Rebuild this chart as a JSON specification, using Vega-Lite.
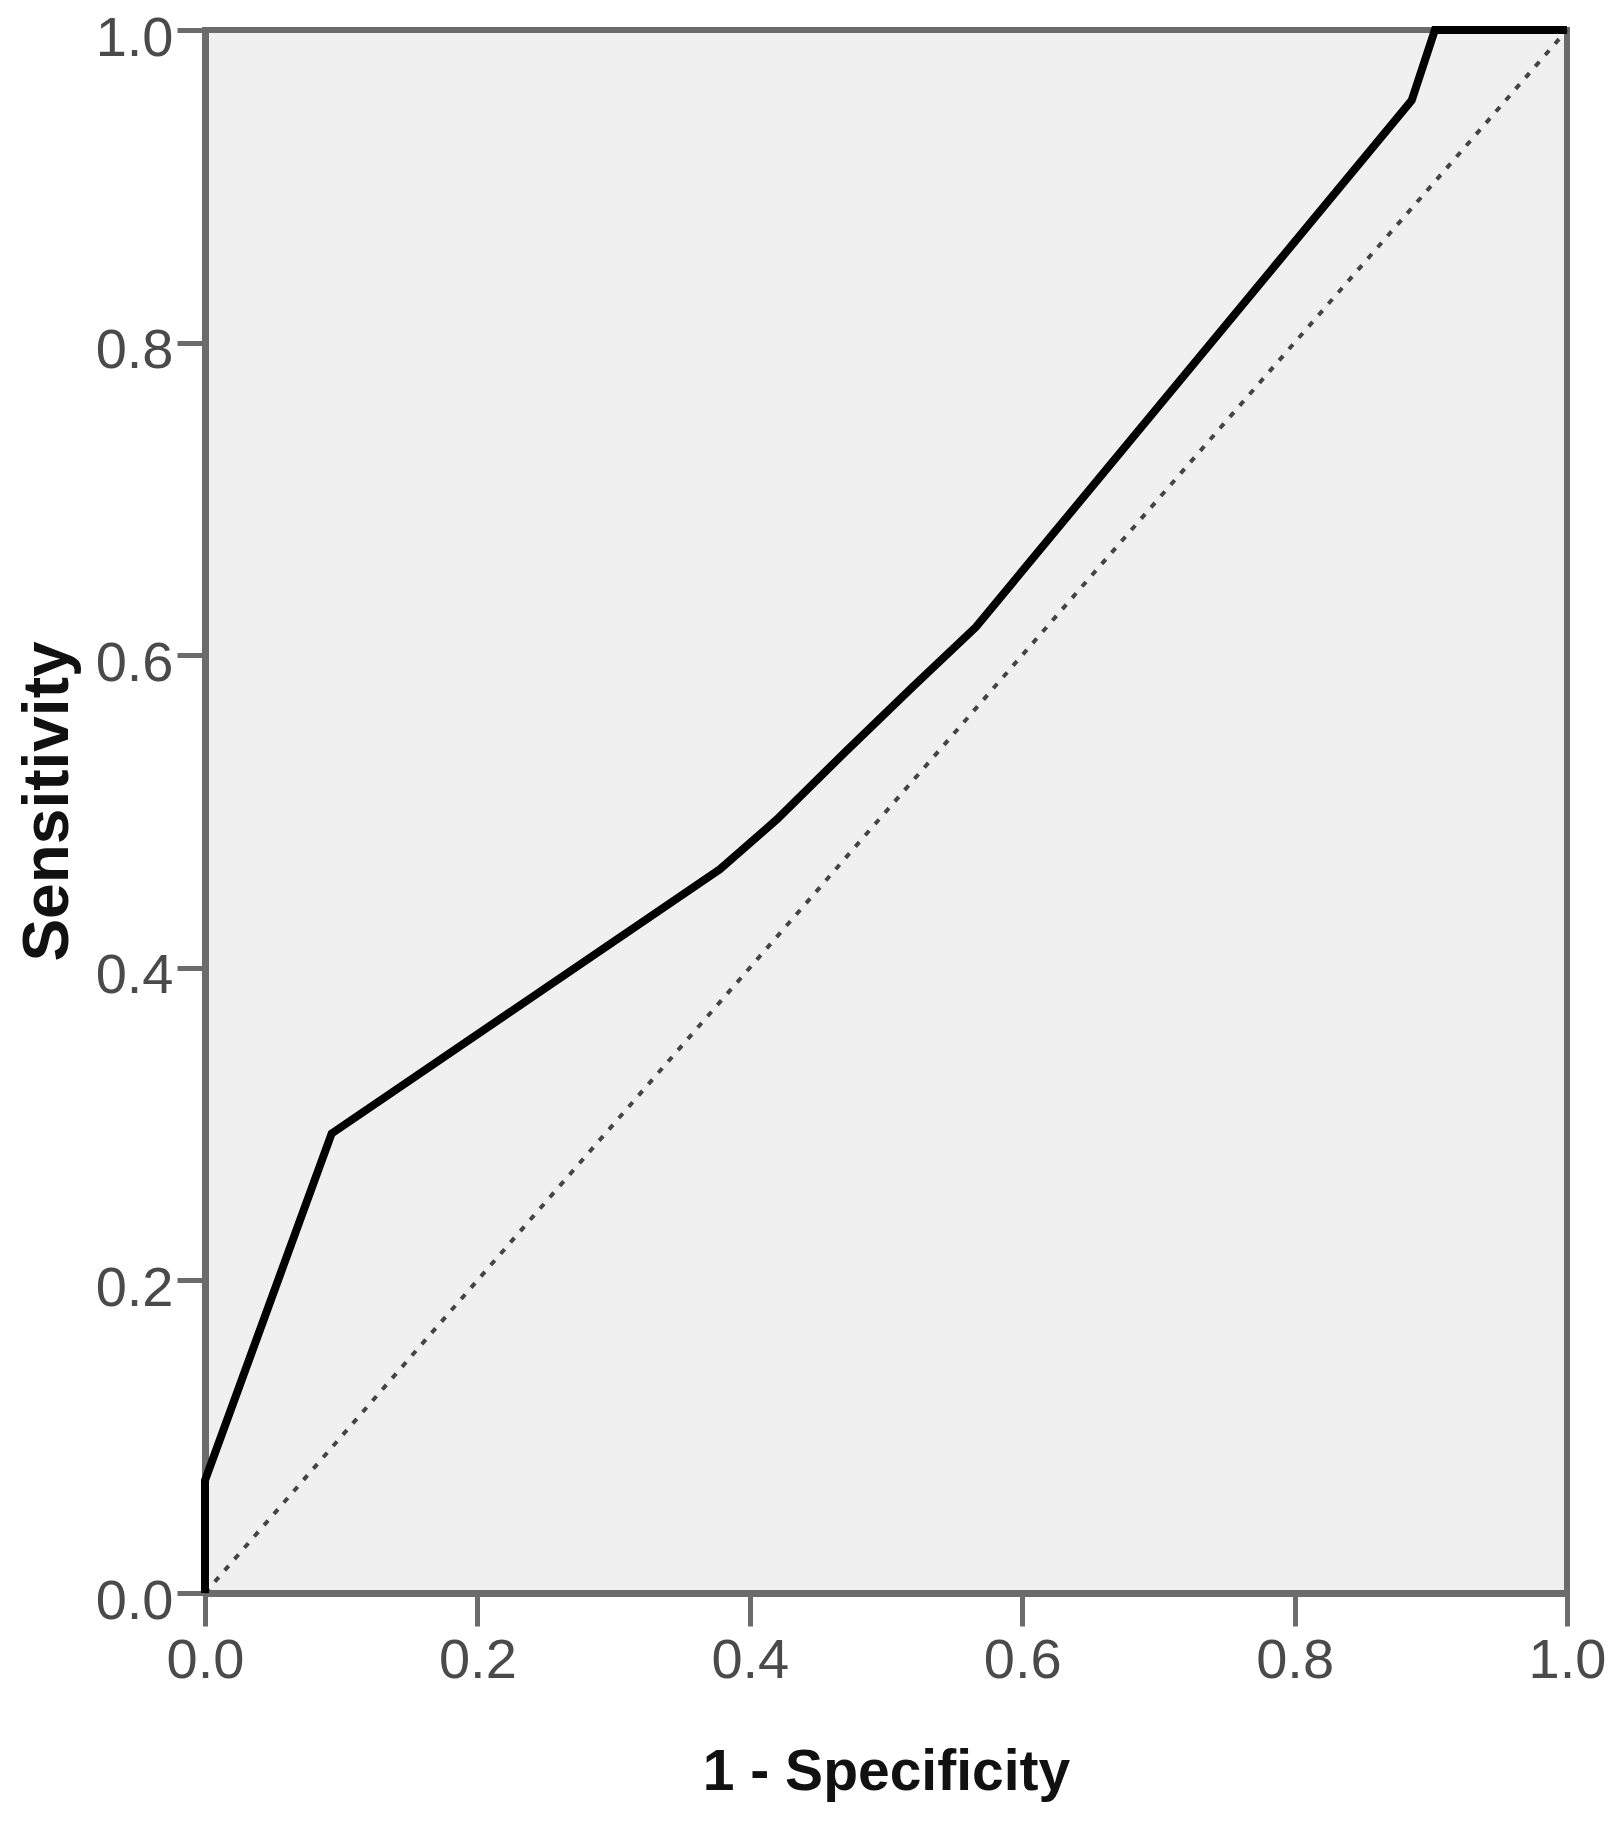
{
  "$schema": "https://vega.github.io/schema/vega-lite/v6.json",
  "autosize": "none",
  "padding": {"left": 205, "top": 30, "right": 50, "bottom": 229},
  "width": 1362,
  "height": 1563,
  "background": "white",
  "config": {
    "view": {"fill": "#f0f0f0", "stroke": "#6b6b6b", "strokeWidth": 6},
    "axis": {
      "grid": false,
      "domainColor": "#6b6b6b",
      "domainWidth": 7,
      "tickColor": "#6b6b6b",
      "tickWidth": 5,
      "labelFont": "Liberation Sans",
      "labelFontSize": 56,
      "labelColor": "#4a4a4a",
      "titleFont": "Liberation Sans",
      "titleFontWeight": "bold",
      "titleColor": "#111111"
    }
  },
  "datasets": {
    "roc": [
      {"fpr": 0.0, "sens": 0.0},
      {"fpr": 0.0, "sens": 0.072},
      {"fpr": 0.093, "sens": 0.294},
      {"fpr": 0.378, "sens": 0.463},
      {"fpr": 0.42, "sens": 0.495},
      {"fpr": 0.47, "sens": 0.538},
      {"fpr": 0.52, "sens": 0.58},
      {"fpr": 0.566, "sens": 0.618},
      {"fpr": 0.886, "sens": 0.955},
      {"fpr": 0.903, "sens": 1.0},
      {"fpr": 1.0, "sens": 1.0}
    ],
    "diag": [
      {"fpr": 0.0, "sens": 0.0},
      {"fpr": 1.0, "sens": 1.0}
    ]
  },
  "layer": [
    {
      "data": {"name": "diag"},
      "mark": {"type": "line", "color": "#444444", "strokeWidth": 4, "strokeDash": [6, 9]},
      "encoding": {
        "x": {"field": "fpr", "type": "quantitative"},
        "y": {"field": "sens", "type": "quantitative"}
      }
    },
    {
      "data": {"name": "roc"},
      "mark": {"type": "line", "color": "#000000", "strokeWidth": 8, "strokeJoin": "miter"},
      "encoding": {
        "x": {
          "field": "fpr", "type": "quantitative",
          "scale": {"domain": [0, 1], "nice": false, "zero": false},
          "axis": {
            "title": "1 - Specificity",
            "values": [0, 0.2, 0.4, 0.6, 0.8, 1.0],
            "format": ".1f",
            "tickSize": 33,
            "labelPadding": 7,
            "labelFlush": false,
            "titleFontSize": 57,
            "titleBaseline": "alphabetic",
            "titleY": 196,
            "titleX": 681
          }
        },
        "y": {
          "field": "sens", "type": "quantitative",
          "scale": {"domain": [0, 1], "nice": false, "zero": false},
          "axis": {
            "title": "Sensitivity",
            "values": [0, 0.2, 0.4, 0.6, 0.8, 1.0],
            "format": ".1f",
            "tickSize": 28,
            "labelPadding": 4,
            "labelOffset": 8,
            "labelFlush": false,
            "titleFontSize": 64,
            "titleAngle": -90,
            "titleBaseline": "alphabetic",
            "titleAlign": "center",
            "titleX": -138,
            "titleY": 771
          }
        }
      }
    }
  ]
}
